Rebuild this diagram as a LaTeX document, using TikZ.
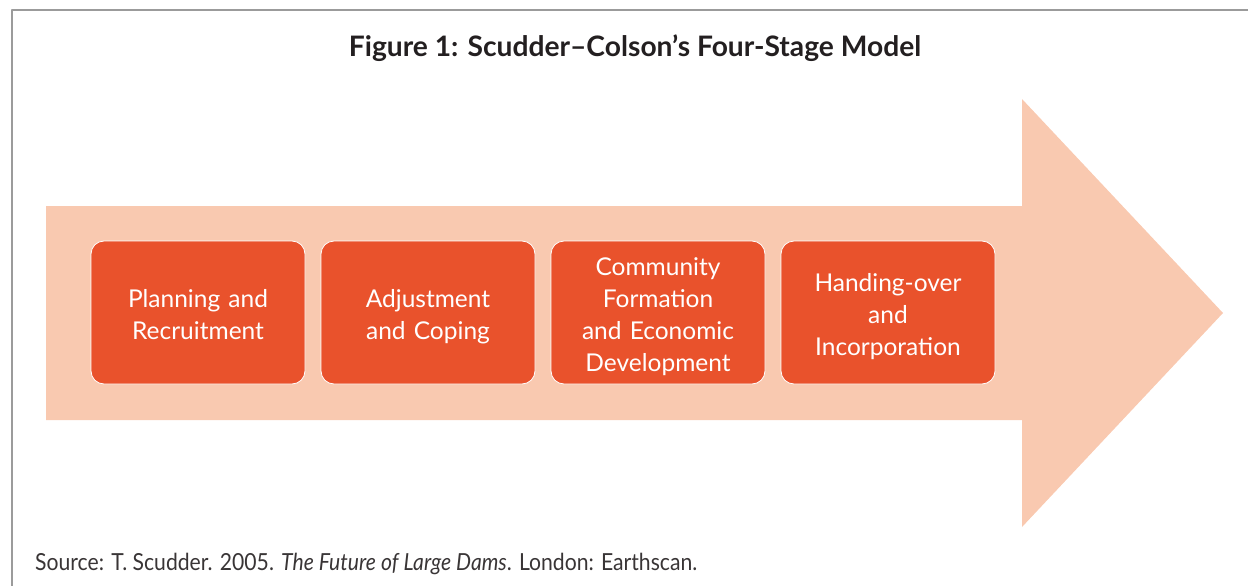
\documentclass[tikz,border=0pt]{standalone}
\usepackage{fontspec}
\setmainfont{Lato}
\newfontfamily\sourcefont[FakeStretch=0.9]{Lato}
\usepackage{xcolor}
\definecolor{arrowfill}{HTML}{F9C9B0}
\definecolor{stagefill}{HTML}{E9522C}
\definecolor{framegray}{HTML}{9B9B9B}
\definecolor{textdark}{HTML}{231F20}

\begin{document}
\begin{tikzpicture}[line join=round,x=1pt,y=-1pt,
	stage/.style={draw=white,line width=0.8pt,fill=stagefill,rounded corners=13pt,
		minimum width=214pt,minimum height=143pt,text width=206pt,inner sep=0pt,
		align=center,text=white,font=\fontsize{24.5}{32}\selectfont,
		execute at begin node={\rule{0pt}{27.6pt}},
		execute at end node={\rule[-6pt]{0pt}{0pt}}}]
	\useasboundingbox (0,0) rectangle (1248,586);
	\draw [framegray,line width=1.5pt] (12,586)-- (12,10)-- (1248,10);
	% big arrow
	\fill [arrowfill] (46,206)-- (1022,206)-- (1022,99)-- (1223,313)-- (1022,527)-- (1022,420)-- (46,420)-- cycle;
	\node[stage] (plan) at (198,312.5) {Planning and\\Recruitment};
	\node[stage] (adjust) at (428,312.5) {Adjustment\\and Coping};
	\node[stage] (community) at (658,312.5) {Community\\Formation\\and Economic\\Development};
	\node[stage] (handover) at (888,312.5) {Handing-over\\and\\Incorporation};
	\node[text=textdark,font=\bfseries\fontsize{28.2}{31}\selectfont] (title) at (635,48.5) {Figure 1: Scudder–Colson’s Four-Stage Model};
	\node[anchor=base west,inner sep=0pt,text=textdark!90,font=\sourcefont\fontsize{23.5}{26}\selectfont] (source) at (35,570) {Source: T. Scudder. 2005. \textit{The Future of Large Dams}. London: Earthscan.};
\end{tikzpicture}
\end{document}
